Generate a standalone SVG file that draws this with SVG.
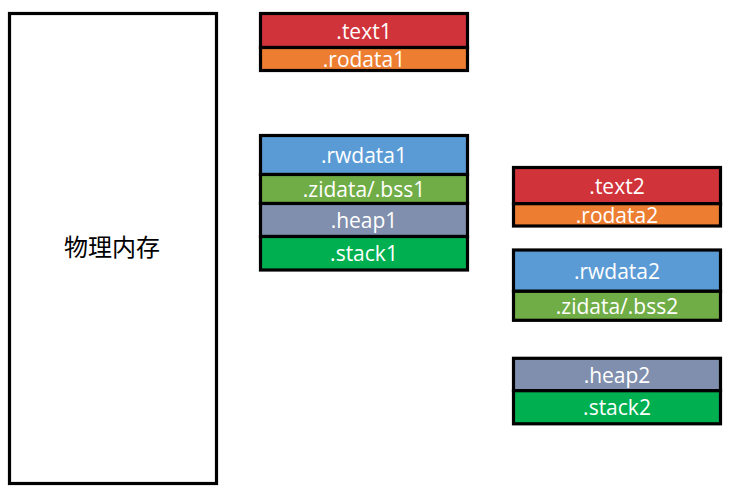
<svg xmlns="http://www.w3.org/2000/svg" width="739" height="490" viewBox="0 0 739 490">
<style>
.b{stroke:#000;stroke-width:3.2}
.t{font-family:"Open Sans","Liberation Sans",sans-serif;font-size:21px;fill:#fff;text-anchor:middle}
.red{fill:#D1333A}.org{fill:#ED7D31}.blu{fill:#5B9BD5}.grn{fill:#70AD47}.gry{fill:#7F8FAD}.grn2{fill:#00B050}
</style>
<rect width="739" height="490" fill="#fff"/>
<g id="mem">
<rect class="b" x="9.5" y="13.5" width="207" height="470" fill="#fff"/>
<text x="112" y="255.5" style="font-family:'Noto Sans CJK SC',sans-serif;font-size:24px;fill:#000;text-anchor:middle">物理内存</text>
</g>
<g id="text1"><rect class="b red" x="260.5" y="13.5" width="207" height="34"/><text class="t" x="364" y="38.5">.text1</text></g>
<g id="rodata1"><rect class="b org" x="260.5" y="47.5" width="207" height="23"/><text class="t" x="364" y="66.8">.rodata1</text></g>
<g id="rwdata1"><rect class="b blu" x="260.5" y="135.5" width="207" height="39"/><text class="t" x="364" y="163">.rwdata1</text></g>
<g id="bss1"><rect class="b grn" x="260.5" y="174.5" width="207" height="29"/><text class="t" x="364" y="197">.zidata/.bss1</text></g>
<g id="heap1"><rect class="b gry" x="260.5" y="203.5" width="207" height="33"/><text class="t" x="364" y="228">.heap1</text></g>
<g id="stack1"><rect class="b grn2" x="260.5" y="236.5" width="207" height="33.5"/><text class="t" x="364" y="261.2">.stack1</text></g>
<g id="text2"><rect class="b red" x="513.5" y="167.5" width="207" height="36.2"/><text class="t" x="617" y="193.6">.text2</text></g>
<g id="rodata2"><rect class="b org" x="513.5" y="203.7" width="207" height="22.3"/><text class="t" x="617" y="222.7">.rodata2</text></g>
<g id="rwdata2"><rect class="b blu" x="513.5" y="250" width="207" height="41.3"/><text class="t" x="617" y="278.7">.rwdata2</text></g>
<g id="bss2"><rect class="b grn" x="513.5" y="291.3" width="207" height="29"/><text class="t" x="617" y="313.7">.zidata/.bss2</text></g>
<g id="heap2"><rect class="b gry" x="513.5" y="358.3" width="207" height="32.4"/><text class="t" x="617" y="382.5">.heap2</text></g>
<g id="stack2"><rect class="b grn2" x="513.5" y="390.7" width="207" height="33.1"/><text class="t" x="617" y="415.2">.stack2</text></g>
<g id="connectors"/>
</svg>
